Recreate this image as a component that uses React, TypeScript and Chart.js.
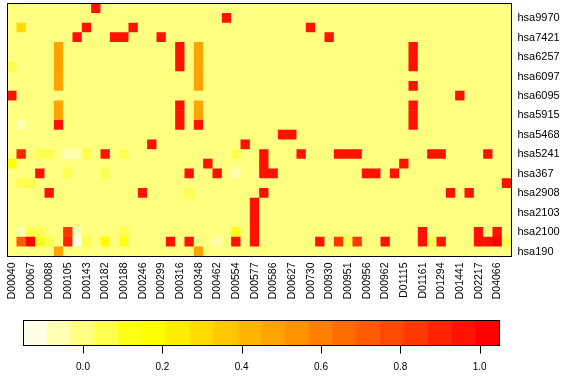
import React, { useEffect, useRef } from "react";
import { Chart, registerables } from "chart.js";

Chart.register(...registerables);

// Column categories (only every other name is printed on the axis)
const colLabels: string[] = [
  "D00040", "", "D00067", "", "D00088", "", "D00105", "", "D00143", "",
  "D00182", "", "D00188", "", "D00246", "", "D00299", "", "D00316", "",
  "D00348", "", "D00462", "", "D00554", "", "D00577", "", "D00586", "",
  "D00627", "", "D00730", "", "D00930", "", "D00951", "", "D00956", "",
  "D00962", "", "D01115", "", "D01161", "", "D01294", "", "D01441", "",
  "D02217", "", "D04066", "",
];

// Row categories, bottom to top (only every other name is printed)
const rowLabels: string[] = [
  "hsa190", "", "hsa2100", "", "hsa2103", "", "hsa2908", "", "hsa367", "",
  "hsa5241", "", "hsa5468", "", "hsa5915", "", "hsa6095", "", "hsa6097", "",
  "hsa6257", "", "hsa7421", "", "hsa9970", "",
];

// Cell values, top row first
const heatRows: number[][] = [
  [0,0,0,0,0,0,0,0,0,0.96, 0,0,0,0,0,0,0,0,0,0, 0,0,0,0,0,0,0,0,0,0, 0,0,0,0,0,0,0,0,0,0, 0,0,0,0,0,0,0,0,0,0, 0,0,0,0],
  [0,0,0,0,0,0,0,0,0,0, 0,0,0,0,0,0,0,0,0,0, 0,0,0,0.96,0,0,0,0,0,0, 0,0,0,0,0,0,0,0,0,0, 0,0,0,0,0,0,0,0,0,0, 0,0,0,0],
  [0,0.3,0,0,0,0,0,0,0.96,0, 0,0,0,0.96,0,0,0,0,0,0, 0,0,0,0,0,0,0,0,0,0, 0,0,0.96,0,0,0,0,0,0,0, 0,0,0,0,0,0,0,0,0,0, 0,0,0,0],
  [0,0,0,0,0,0,0,0.96,0,0, 0,0.96,0.96,0,0,0,0.96,0,0,0, 0,0,0,0,0,0,0,0,0,0, 0,0,0,0,0.96,0,0,0,0,0, 0,0,0,0,0,0,0,0,0,0, 0,0,0,0],
  [0,0,0,0,0,0.48,0,0,0,0, 0,0,0,0,0,0,0,0,0.96,0, 0.48,0,0,0,0,0,0,0,0,0, 0,0,0,0,0,0,0,0,0,0, 0,0,0,0.96,0,0,0,0,0,0, 0,0,0,0],
  [0,0,0,0,0,0.48,0,0,0,0, 0,0,0,0,0,0,0,0,0.96,0, 0.48,0,0,0,0,0,0,0,0,0, 0,0,0,0,0,0,0,0,0,0, 0,0,0,0.96,0,0,0,0,0,0, 0,0,0,0],
  [0.06,0,0,0,0,0.48,0,0,0,0, 0,0,0,0,0,0,0,0,0.96,0, 0.48,0,0,0,0,0,0,0,0,0, 0,0,0,0,0,0,0,0,0,0, 0,0,0,0.96,0,0,0,0,0,0, 0,0,0,0],
  [0,0,0,0,0,0.48,0,0,0,0, 0,0,0,0,0,0,0,0,0,0, 0.48,0,0,0,0,0,0,0,0,0, 0,0,0,0,0,0,0,0,0,0, 0,0,0,0,0,0,0,0,0,0, 0,0,0,0],
  [0,0,0,0,0,0.48,0,0,0,0, 0,0,0,0,0,0,0,0,0,0, 0.48,0,0,0,0,0,0,0,0,0, 0,0,0,0,0,0,0,0,0,0, 0,0,0,0.96,0,0,0,0,0,0, 0,0,0,0],
  [0.96,0,0,0,0,0,0,0,0,0, 0,0,0,0,0,0,0,0,0,0, 0,0,0,0,0,0,0,0,0,0, 0,0,0,0,0,0,0,0,0,0, 0,0,0,0,0,0,0,0,0.96,0, 0,0,0,0],
  [0,0,0,0,0,0.48,0,0,0,0, 0,0,0,0,0,0,0,0,0.96,0, 0.48,0,0,0,0,0,0,0,0,0, 0,0,0,0,0,0,0,0,0,0, 0,0,0,0.96,0,0,0,0,0,0, 0,0,0,0],
  [0,0,0,0,0,0.48,0,0,0,0, 0,0,0,0,0,0,0,0,0.96,0, 0.48,0,0,0,0,0,0,0,0,0, 0,0,0,0,0,0,0,0,0,0, 0,0,0,0.96,0,0,0,0,0,0, 0,0,0,0],
  [0,-0.06,0,0,0,0.96,0,0,0,0, 0,0,0,0,0,0,0,0,0.96,0, 0.96,0,0,0,0,0,0,0,0,0, 0,0,0,0,0,0,0,0,0,0, 0,0,0,0.96,0,0,0,0,0,0, 0,0,0,0],
  [0,0,0,0,0,0,0,0,0,0, 0,0,0,0,0,0,0,0,0,0, 0,0,0,0,0,0,0,0,0,0.96, 0.96,0,0,0,0,0,0,0,0,0, 0,0,0,0,0,0,0,0,0,0, 0,0,0,0],
  [0,0,0,0,0,0,0,0,0,0, 0,0,0,0,0,0.96,0,0,0,0, 0,0,0,0,0,0.96,0,0,0,0, 0,0,0,0,0,0,0,0,0,0, 0,0,0,0,0,0,0,0,0,0, 0,0,0,0],
  [0,0.9,0,0.06,0.06,0,-0.06,-0.06,0.06,0, 0.96,0,0.06,0,0,0,0,0,0,0, 0,0,0,0,0.06,0,0,0.96,0,0, 0,0.96,0,0,0,0.96,0.96,0.96,0,0, 0,0,0,0,0,0.96,0.96,0,0,0, 0,0.96,0,0],
  [0.18,0,0,0,0,0,0,0,0,0, 0,0,0,0,0,0,0,0,0,0, 0,0.96,0,0,0,0,0,0.96,0,0, 0,0,0,0,0,0,0,0,0,0, 0,0,0.96,0,0,0,0,0,0,0, 0,0,0,0],
  [0,0,0,0.96,0,0,0.06,0,0,0, 0.06,0,0,0,0,0,0,0,0,0.96, 0,0,0.96,0,-0.06,0,0,0.96,0.96,0, 0,0,0,0,0,0,0,0,0.96,0.96, 0,0.96,0,0,0,0,0,0,0,0, 0,0,0,0],
  [0,0.06,0.06,0,0,0,0,0,0,0, 0,0,0,0,0,0,0,0,0,0, 0,0,0,0,0,0,0,0,0,0, 0,0,0,0,0,0,0,0,0,0, 0,0,0,0,0,0,0,0,0,0, 0,0,0,0.96],
  [0,0,0,0,0.96,0,0,0,0,0, 0,0,0,0,0.96,0,0,0,0,0.06, 0,0,0,0,0,0,0,0.96,0,0, 0,0,0,0,0,0,0,0,0,0, 0,0,0,0,0,0,0,0.96,0,0.96, 0,0,0,0],
  [0,0,0,0,0,0,0,0,0,0, 0,0,0,0,0,0,0,0,0,0, 0,0,0,0,0,0,0.96,0,0,0, 0,0,0,0,0,0,0,0,0,0, 0,0,0,0,0,0,0,0,0,0, 0,0,0,0],
  [0,0,0,0,0,0,0,0,0,0, 0,0,0,0,0,0,0,0,0,0, 0,0,0,0,0,0,0.96,0,0,0, 0,0,0,0,0,0,0,0,0,0, 0,0,0,0,0,0,0,0,0,0, 0,0,0,0],
  [0,0,0,0,0,0,0,0,0,0, 0,0,0,0,0,0,0,0,0,0, 0,0,0,0,0,0,0.96,0,0,0, 0,0,0,0,0,0,0,0,0,0, 0,0,0,0,0,0,0,0,0,0, 0,0,0,0],
  [0,-0.06,0.06,0.06,0,0,0.84,-0.06,0,0, 0,0,0.06,0,0,0,0,0,0,0, 0,0,0,0,0.12,0,0.96,0,0,0, 0,0,0,0,0,0,0,0,0,0, 0,0,0,0,0.96,0,0,0,0,0, 0.96,0,0.96,0],
  [0,0.72,1.02,0.12,0.06,0,0.9,-0.12,0.06,0, 0.18,0,0.12,0,0,0,0,0.96,0,0.96, 0,0,-0.06,0,0.96,0,0.96,0,0,0, 0,0,0,0.96,0,0.84,0.06,0.84,0,0, 0.96,0,0,0,0.96,0.06,0.96,0,0,0, 0.96,0.96,1.02,0.06],
  [0,0,0,0,0,0.48,0,0,0,0, 0,0,0,0,0,0,0,0,0,0, 0.48,0,0,0,0,0,0,0,0,0, 0,0,0,0,0,0,0,0,0,0, 0,0,0,0,0,0,0,0,0,0, 0,0,0,0],
];

// Colour key: rev(heat.colors(20)) over [-0.15, 1.05]
const palette: string[] = [
  "#FFFFE6", "#FFFFB3", "#FFFF80", "#FFFF4D", "#FFFF1A",
  "#FFFF00", "#FFED00", "#FFDB00", "#FFC800", "#FFB600",
  "#FFA400", "#FF9200", "#FF8000", "#FF6D00", "#FF5B00",
  "#FF4900", "#FF3700", "#FF2400", "#FF1200", "#FF0000",
];
const keyMin = -0.15;
const keyMax = 1.05;
const keyTicks: number[] = [0, 0.2, 0.4, 0.6, 0.8, 1.0];

const FONT = "'Liberation Sans', Arial, sans-serif";

function colorFor(v: number): string {
  const step = (keyMax - keyMin) / palette.length;
  let k = Math.floor((v - keyMin) / step + 1e-9);
  if (k < 0) k = 0;
  if (k > palette.length - 1) k = palette.length - 1;
  return palette[k];
}

const framePlugin = {
  id: "frame",
  afterDraw(chart: any) {
    const { ctx, chartArea } = chart;
    const { left, top, right, bottom } = chartArea;
    ctx.save();
    ctx.strokeStyle = "#000";
    ctx.lineWidth = 1;
    ctx.strokeRect(left, top, right - left, bottom - top);
    ctx.restore();
  },
};

// tick marks under the colour key, placed by the key's value scale
const keyTickPlugin = {
  id: "keyTicks",
  afterDraw(chart: any) {
    const scale = chart.scales.val;
    const { ctx, chartArea } = chart;
    ctx.save();
    ctx.strokeStyle = "#000";
    ctx.lineWidth = 1;
    ctx.beginPath();
    for (const v of keyTicks) {
      const x = Math.round(scale.getPixelForValue(v)) + 0.5;
      ctx.moveTo(x, chartArea.bottom);
      ctx.lineTo(x, chartArea.bottom + 8);
    }
    ctx.stroke();
    ctx.restore();
  },
};

export default function App() {
  const heatRef = useRef<HTMLCanvasElement | null>(null);
  const keyRef = useRef<HTMLCanvasElement | null>(null);

  useEffect(() => {
    const nRows = heatRows.length;
    const datasets = rowLabels.map((name, i) => {
      const vals = heatRows[nRows - 1 - i];
      return {
        label: name || `row${i}`,
        data: vals.map(() => [i, i + 1]),
        backgroundColor: vals.map(colorFor),
        borderWidth: 0,
        grouped: false,
        barPercentage: 1,
        categoryPercentage: 1,
      };
    });

    const heat = new Chart(heatRef.current as HTMLCanvasElement, {
      type: "bar",
      data: { labels: colLabels, datasets: datasets as any },
      plugins: [framePlugin],
      options: {
        animation: false,
        responsive: false,
        layout: { padding: { left: 7.5, top: 3.5, right: 0, bottom: 0 } },
        plugins: { legend: { display: false }, tooltip: { enabled: false } },
        scales: {
          x: {
            type: "category",
            offset: true,
            grid: { display: false, drawTicks: false },
            border: { display: false },
            ticks: {
              autoSkip: false,
              maxRotation: 90,
              minRotation: 90,
              padding: 6,
              color: "#000",
              font: { family: FONT, size: 10.5 },
              callback: (_v: any, idx: number) => colLabels[idx],
            },
            afterFit: (s: any) => {
              s.height = 53.5;
              s.paddingLeft = 0;
              s.paddingRight = 0;
            },
          },
          y: {
            type: "linear",
            position: "right",
            min: 0,
            max: rowLabels.length,
            grid: { display: false, drawTicks: false },
            border: { display: false },
            afterBuildTicks: (s: any) => {
              s.ticks = rowLabels
                .map((l, i) => ({ l, value: i + 0.5 }))
                .filter((t) => t.l !== "")
                .map((t) => ({ value: t.value }));
            },
            ticks: {
              autoSkip: false,
              padding: 6,
              color: "#000",
              font: { family: FONT, size: 11 },
              callback: (v: any) => rowLabels[Math.floor(Number(v))],
            },
            afterFit: (s: any) => {
              s.width = 64.5;
              s.paddingTop = 0;
              s.paddingBottom = 0;
            },
          },
        },
      } as any,
    });

    const key = new Chart(keyRef.current as HTMLCanvasElement, {
      type: "bar",
      data: {
        labels: palette.map((_c, i) => String(i)),
        datasets: [
          {
            data: palette.map(() => [0, 1]) as any,
            backgroundColor: palette,
            borderWidth: 0,
            barPercentage: 1,
            categoryPercentage: 1,
            xAxisID: "bins",
            yAxisID: "y",
          },
        ],
      },
      plugins: [framePlugin, keyTickPlugin],
      options: {
        animation: false,
        responsive: false,
        layout: { padding: { left: 23.5, top: 10.5, right: 76.5, bottom: 0 } },
        plugins: { legend: { display: false }, tooltip: { enabled: false } },
        scales: {
          bins: { type: "category", display: false, offset: true },
          y: { type: "linear", display: false, min: 0, max: 1 },
          val: {
            type: "linear",
            position: "bottom",
            offset: false,
            min: keyMin,
            max: keyMax,
            grid: { display: false, drawTicks: false, offset: false },
            border: { display: false },
            afterBuildTicks: (s: any) => {
              s.ticks = keyTicks.map((v) => ({ value: v }));
            },
            ticks: {
              autoSkip: false,
              padding: 16,
              color: "#000",
              font: { family: FONT, size: 10 },
              callback: (v: any) => Number(v).toFixed(1),
            },
            afterFit: (s: any) => {
              s.height = 38.5;
              s.paddingLeft = 0;
              s.paddingRight = 0;
            },
          },
        },
      } as any,
    });

    return () => {
      heat.destroy();
      key.destroy();
    };
  }, []);

  return (
    <div style={{ position: "fixed", left: 0, top: 0, width: 576, height: 384, background: "#fff" }}>
      <canvas
        ref={heatRef}
        width={576}
        height={310}
        style={{ position: "absolute", left: 0, top: 0, width: 576, height: 310 }}
      />
      <canvas
        ref={keyRef}
        width={576}
        height={74}
        style={{ position: "absolute", left: 0, top: 310, width: 576, height: 74 }}
      />
    </div>
  );
}
